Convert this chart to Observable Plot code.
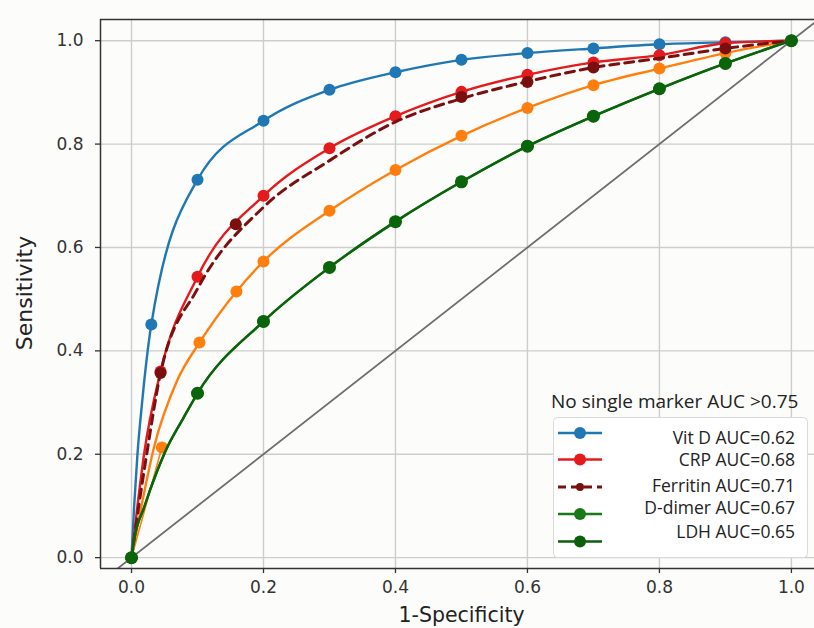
<!DOCTYPE html>
<html><head><meta charset="utf-8">
<script src="https://cdn.jsdelivr.net/npm/d3@7"></script>
<script src="https://cdn.jsdelivr.net/npm/@observablehq/plot@0.6"></script>
<style>
body{margin:0;background:#fcfcfa;overflow:hidden}
#wrap{position:relative;width:814px;height:628px}
#legendTitle{position:absolute;left:551px;top:388px;font-family:"Open Sans";font-size:19px;color:#222;white-space:nowrap;line-height:26px}
#legend{position:absolute;left:553px;top:417px}
</style></head><body><div id="wrap"></div>
<script>
// ---- data ----
const xTicks = [0, 0.2, 0.4, 0.6, 0.8, 1.0];
const yTicks = [0, 0.2, 0.4, 0.6, 0.8, 1.0];
const xDomain = [-0.047, 1.035];
const yDomain = [-0.021, 1.041];

const vitDX = [0, 0.03, 0.1, 0.2, 0.3, 0.4, 0.5, 0.6, 0.7, 0.8, 0.9, 1.0];
const vitDY = [0, 0.451, 0.731, 0.845, 0.905, 0.939, 0.963, 0.976, 0.985, 0.993, 0.997, 1.0];
const vitDLineX = [0, 0.004, 0.009, 0.016, 0.03, 0.1, 0.2, 0.3, 0.4, 0.5, 0.6, 0.7, 0.8, 0.9, 1.0];
const vitDLineY = [0, 0.1, 0.2, 0.3, 0.451, 0.731, 0.845, 0.905, 0.939, 0.963, 0.976, 0.985, 0.993, 0.997, 1.0];

const crpX = [0, 0.044, 0.1, 0.2, 0.3, 0.4, 0.5, 0.6, 0.7, 0.8, 0.9, 1.0];
const crpY = [0, 0.36, 0.5435, 0.700, 0.792, 0.854, 0.901, 0.934, 0.958, 0.972, 0.995, 1.0];
const crpLineX = [0, 0.009, 0.019, 0.044, 0.1, 0.2, 0.3, 0.4, 0.5, 0.6, 0.7, 0.8, 0.9, 1.0];
const crpLineY = [0, 0.1, 0.2, 0.36, 0.5435, 0.700, 0.792, 0.854, 0.901, 0.934, 0.958, 0.972, 0.995, 1.0];

const ferritinLineX = [0, 0.011, 0.023, 0.044, 0.1, 0.2, 0.3, 0.4, 0.5, 0.6, 0.7, 0.8, 0.9, 1.0];
const ferritinLineY = [0, 0.1, 0.2, 0.357, 0.52, 0.678, 0.768, 0.843, 0.888, 0.921, 0.948, 0.966, 0.985, 1.0];
const ferritinDotX = [0, 0.044, 0.158, 0.5, 0.6, 0.7, 0.9, 1.0];
const ferritinDotY = [0, 0.357, 0.645, 0.891, 0.92, 0.948, 0.985, 1.0];

const orangeX = [0, 0.046, 0.103, 0.159, 0.2, 0.3, 0.4, 0.5, 0.6, 0.7, 0.8, 0.9, 1.0];
const orangeY = [0, 0.213, 0.416, 0.515, 0.573, 0.671, 0.750, 0.816, 0.870, 0.914, 0.946, 0.976, 1.0];
const orangeLineX = [0, 0.012, 0.034, 0.069, 0.103, 0.159, 0.2, 0.3, 0.4, 0.5, 0.6, 0.7, 0.8, 0.9, 1.0];
const orangeLineY = [0, 0.08, 0.213, 0.342, 0.416, 0.515, 0.573, 0.671, 0.750, 0.816, 0.870, 0.914, 0.946, 0.976, 1.0];
const orangeStubX = [0, 0.046];
const orangeStubY = [0, 0.213];

const dDimerX = [0, 0.1, 0.2, 0.3, 0.4, 0.5, 0.6, 0.7, 0.8, 0.9, 1.0];
const dDimerY = [0, 0.318, 0.457, 0.5615, 0.650, 0.727, 0.796, 0.854, 0.907, 0.956, 1.0];
const ldhX = [0, 0.1, 0.2, 0.3, 0.4, 0.5, 0.6, 0.7, 0.8, 0.9, 1.0];
const ldhY = [0, 0.318, 0.457, 0.5615, 0.650, 0.727, 0.796, 0.854, 0.907, 0.956, 1.0];
const greenLineX = [0, 0.004, 0.019, 0.039, 0.051, 0.079, 0.1, 0.2, 0.3, 0.4, 0.5, 0.6, 0.7, 0.8, 0.9, 1.0];
const greenLineY = [0, 0.035, 0.097, 0.168, 0.205, 0.271, 0.318, 0.457, 0.5615, 0.650, 0.727, 0.796, 0.854, 0.907, 0.956, 1.0];

const legendTitle = "No single marker AUC >0.75";
const legendLabels = ["Vit D AUC=0.62", "CRP AUC=0.68", "Ferritin AUC=0.71", "D-dimer AUC=0.67", "LDH AUC=0.65"];
const legendColors = ["#1f77b4", "#e41a1c", "#7a0f0f", "#167a16", "#0b5e0b"];
const legendDashed = [false, false, true, false, false];

// ---- build ----
const rows = (xs, ys) => xs.map((x, i) => ({x, y: ys[i]}));
const C = {blue: "#1f77b4", red: "#e41a1c", dark: "#7a0f0f", orange: "#ff7f0e", green: "#0a640a", green2: "#167a16"};
const lw = 2.4, r = 6;
const curve = "monotone-x";

const chart = Plot.plot({
  width: 814, height: 628,
  marginLeft: 100, marginRight: 0, marginTop: 19, marginBottom: 60,
  x: {domain: xDomain},
  y: {domain: yDomain},
  style: {fontFamily: "DejaVu Sans", color: "#333", background: "transparent"},
  marks: [
    Plot.gridX(xTicks, {stroke: "#cdcdcd", strokeOpacity: 1, strokeWidth: 1.4}),
    Plot.gridY(yTicks, {stroke: "#cdcdcd", strokeOpacity: 1, strokeWidth: 1.4}),
    Plot.line([xDomain[0], xDomain[1]], {x: d => d, y: d => d, stroke: "#6e6e6e", strokeWidth: 1.8, clip: true}),
    Plot.line(rows(orangeStubX, orangeStubY), {x: "x", y: "y", stroke: C.orange, strokeWidth: 1.6}),
    Plot.line(rows(orangeLineX, orangeLineY), {x: "x", y: "y", stroke: C.orange, strokeWidth: lw, curve}),
    Plot.dot(rows(orangeX, orangeY), {x: "x", y: "y", r, fill: C.orange}),
    Plot.line(rows(vitDLineX, vitDLineY), {x: "x", y: "y", stroke: C.blue, strokeWidth: lw, curve}),
    Plot.dot(rows(vitDX, vitDY), {x: "x", y: "y", r, fill: C.blue}),
    Plot.line(rows(crpLineX, crpLineY), {x: "x", y: "y", stroke: C.red, strokeWidth: lw, curve}),
    Plot.dot(rows(crpX, crpY), {x: "x", y: "y", r, fill: C.red}),
    Plot.line(rows(ferritinLineX, ferritinLineY), {x: "x", y: "y", stroke: C.dark, strokeWidth: 3, strokeDasharray: "9,6", curve}),
    Plot.dot(rows(ferritinDotX, ferritinDotY), {x: "x", y: "y", r, fill: C.dark}),
    Plot.line(rows(greenLineX, greenLineY), {x: "x", y: "y", stroke: C.green2, strokeWidth: lw, curve}),
    Plot.dot(rows(dDimerX, dDimerY), {x: "x", y: "y", r, fill: C.green2}),
    Plot.line(rows(greenLineX, greenLineY), {x: "x", y: "y", stroke: C.green, strokeWidth: lw, curve}),
    Plot.dot(rows(ldhX, ldhY), {x: "x", y: "y", r: 6.5, fill: C.green}),
    Plot.ruleX([xDomain[0]], {stroke: "#333", strokeWidth: 1.5}),
    Plot.ruleY([yDomain[0], yDomain[1]], {stroke: "#333", strokeWidth: 1.5}),
    Plot.axisX(xTicks, {tickFormat: d3.format(".1f"), tickSize: 5, tickPadding: 7, fontSize: 17, label: null, strokeWidth: 1.3}),
    Plot.axisY(yTicks, {tickFormat: d3.format(".1f"), tickSize: 5, tickPadding: 12, fontSize: 17, label: null, strokeWidth: 1.3}),
    Plot.text(["1-Specificity"], {frameAnchor: "bottom", lineAnchor: "middle", textAnchor: "middle", dy: 47, dx: 4, fontSize: 20.5, fill: "#222"}),
    Plot.text(["Sensitivity"], {frameAnchor: "left", textAnchor: "middle", lineAnchor: "middle", rotate: -90, dx: -76, dy: -1, fontSize: 22, fill: "#222"})
  ]
});
const wrap = document.getElementById("wrap");
wrap.appendChild(chart);

// legend
const t = document.createElement("div");
t.id = "legendTitle"; t.textContent = legendTitle; wrap.appendChild(t);
const lg = d3.select(wrap).append("svg").attr("id", "legend").attr("width", 256).attr("height", 142);
lg.append("rect").attr("x", 0.5).attr("y", 0.5).attr("width", 254).attr("height", 140).attr("rx", 4)
  .attr("fill", "#fff").attr("stroke", "#d9d9d9");
const lineY = [16, 42.5, 70, 97, 124.5];
const textY = [21, 43, 69, 91, 115];
legendLabels.forEach((lab, i) => {
  const g = lg.append("g");
  g.append("line").attr("x1", 5).attr("x2", 49).attr("y1", lineY[i]).attr("y2", lineY[i])
    .attr("stroke", legendColors[i]).attr("stroke-width", legendDashed[i] ? 3 : 2.4)
    .attr("stroke-dasharray", legendDashed[i] ? "8,5" : null);
  g.append("circle").attr("cx", 27).attr("cy", lineY[i]).attr("r", legendDashed[i] ? 4 : 6).attr("fill", legendColors[i]);
  g.append("text").attr("x", 242).attr("y", textY[i]).attr("dy", "0.35em").attr("text-anchor", "end")
    .attr("font-family", "Open Sans").attr("font-size", 17.5).attr("fill", "#222").text(lab);
});
</script>
</body></html>
